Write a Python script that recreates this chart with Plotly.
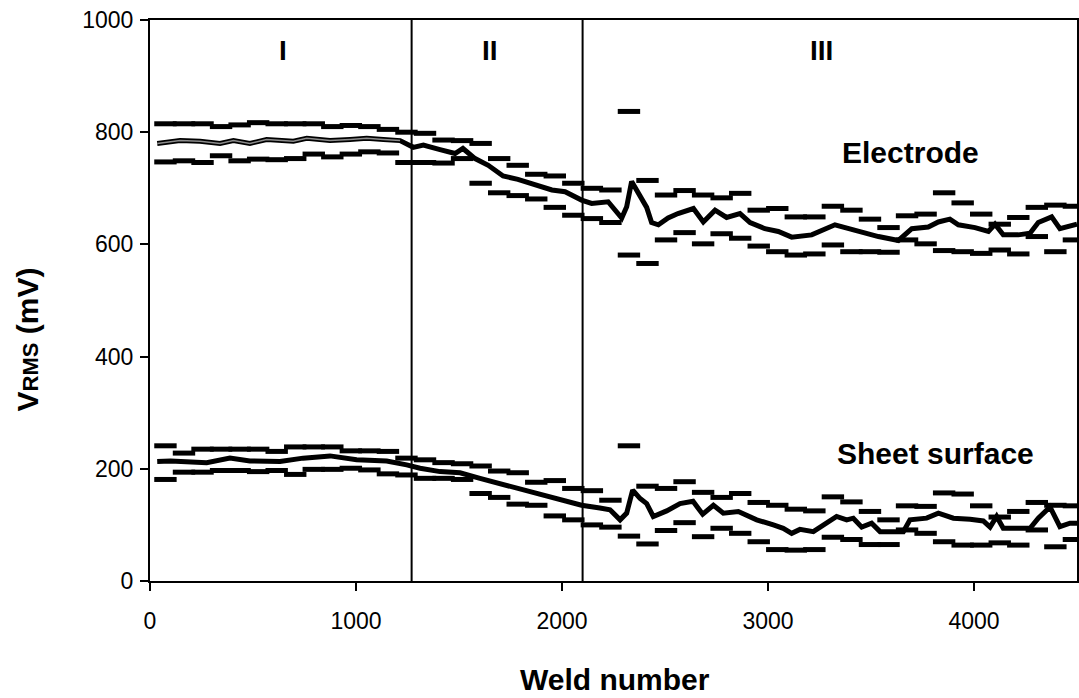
import plotly.graph_objects as go

# Bin centres (weld number) for the scatter bands
weld_bins = [75, 165, 255, 345, 435, 525, 615, 705, 795, 885,
             975, 1065, 1155, 1245, 1335, 1425, 1515, 1605, 1695, 1785,
             1875, 1965, 2055, 2145, 2235, 2325, 2415, 2505, 2595, 2685,
             2775, 2865, 2955, 3045, 3135, 3225, 3315, 3405, 3495, 3585,
             3675, 3765, 3855, 3945, 4035, 4125, 4215, 4305, 4395, 4485]

# Electrode: upper / lower band values per bin (mV)
electrode_upper = [815, 815, 815, 810, 813, 817, 815, 815, 815, 810,
                   812, 810, 805, 800, 798, 786, 785, 780, 753, 741,
                   725, 722, 709, 700, 697, 837, 714, 688, 696, 688,
                   683, 691, 661, 664, 649, 649, 668, 661, 645, 630,
                   651, 654, 692, 674, 654, 636, 648, 666, 670, 668]
electrode_lower = [747, 749, 746, 758, 749, 752, 751, 753, 761, 756,
                   761, 765, 763, 746, 746, 745, 753, 709, 692, 687,
                   681, 666, 652, 646, 639, 581, 566, 608, 621, 601,
                   619, 611, 597, 587, 581, 583, 599, 587, 587, 586,
                   608, 601, 589, 587, 584, 590, 583, 614, 587, 608]

# Sheet surface: upper / lower band values per bin (mV)
sheet_upper = [241, 228, 235, 235, 235, 235, 231, 239, 239, 239,
               232, 232, 231, 219, 216, 211, 209, 205, 196, 193,
               176, 179, 165, 161, 144, 241, 169, 165, 177, 158,
               149, 156, 140, 135, 128, 125, 150, 141, 124, 109,
               134, 133, 157, 155, 134, 114, 124, 140, 135, 134]
sheet_lower = [181, 194, 194, 197, 197, 195, 197, 190, 199, 199,
               201, 198, 191, 189, 183, 183, 181, 156, 149, 137,
               135, 116, 109, 100, 96, 80, 66, 90, 104, 79,
               94, 85, 70, 56, 55, 56, 78, 74, 65, 65,
               91, 85, 70, 64, 64, 68, 64, 91, 61, 74]

# Running mean of V_RMS, electrode
electrode_x = [35, 146, 243, 340, 405, 485, 566, 696, 761, 874,
               971, 1052, 1133, 1214, 1278, 1327, 1408, 1481, 1519, 1578,
               1642, 1714, 1786, 1869, 1951, 2015, 2095, 2144, 2224, 2290,
               2314, 2338, 2379, 2411, 2435, 2468, 2515, 2563, 2638, 2686,
               2743, 2799, 2864, 2913, 2985, 3050, 3115, 3212, 3325, 3398,
               3471, 3536, 3633, 3698, 3778, 3827, 3883, 3924, 4005, 4070,
               4102, 4142, 4215, 4272, 4312, 4377, 4417, 4458, 4500]
electrode_mean = [780, 785, 784, 780, 785, 780, 787, 784, 789, 785,
                  787, 789, 787, 785, 773, 777, 769, 762, 771, 753,
                  741, 722, 716, 706, 697, 694, 679, 673, 676, 647,
                  667, 712, 685, 666, 639, 635, 647, 655, 664, 640,
                  661, 648, 655, 639, 628, 623, 613, 617, 635, 627,
                  620, 614, 607, 628, 631, 640, 645, 635, 630, 623,
                  636, 617, 617, 620, 639, 649, 628, 633, 636]

# Running mean of V_RMS, sheet surface
sheet_x = [35, 100, 275, 388, 485, 631, 743, 874, 1003, 1149,
           1246, 1311, 1408, 1505, 1602, 1699, 1796, 1893, 1990, 2095,
           2184, 2233, 2282, 2314, 2343, 2379, 2411, 2443, 2508, 2573,
           2636, 2683, 2735, 2783, 2856, 2945, 3026, 3074, 3115, 3155,
           3220, 3269, 3333, 3382, 3414, 3455, 3503, 3544, 3608, 3657,
           3689, 3770, 3827, 3900, 3981, 4045, 4078, 4110, 4142, 4207,
           4272, 4312, 4369, 4417, 4466, 4500]
sheet_mean = [213, 214, 211, 219, 214, 213, 219, 223, 216, 214,
              207, 201, 195, 193, 183, 174, 165, 156, 147, 135,
              130, 127, 109, 121, 162, 147, 138, 115, 125, 138,
              142, 119, 135, 121, 124, 109, 100, 94, 85, 92,
              88, 100, 115, 109, 112, 96, 103, 88, 87, 88,
              109, 112, 121, 112, 110, 107, 96, 115, 94, 94,
              94, 112, 132, 97, 103, 103]

# Boundaries between wear stages I / II / III
stage_bounds = [1270, 2100]
stage_names = ["I", "II", "III"]
stage_label_x = [646, 1650, 3262]

FONT = "Liberation Sans, Arial, Helvetica, sans-serif"

fig = go.Figure()

band_marker = dict(symbol="line-ew", size=16, color="black",
                   line=dict(color="black", width=5))
for band in (electrode_upper, electrode_lower, sheet_upper, sheet_lower):
    fig.add_trace(go.Scatter(x=weld_bins, y=band, mode="markers",
                             marker=band_marker, hoverinfo="skip",
                             showlegend=False))

for xs, ys in ((electrode_x, electrode_mean), (sheet_x, sheet_mean)):
    fig.add_trace(go.Scatter(x=xs, y=ys, mode="lines",
                             line=dict(color="black", width=5),
                             showlegend=False))

# lighter core on the stage-I part of the electrode curve
stage1 = [i for i, v in enumerate(electrode_x) if v <= stage_bounds[0]]
fig.add_trace(go.Scatter(x=[electrode_x[i] for i in stage1],
                         y=[electrode_mean[i] for i in stage1],
                         mode="lines", line=dict(color="#8c8c8c", width=1.5),
                         showlegend=False))

for xb in stage_bounds:
    fig.add_shape(type="line", xref="x", yref="y", x0=xb, x1=xb, y0=0, y1=1000,
                  line=dict(color="black", width=2))

for name, xl in zip(stage_names, stage_label_x):
    fig.add_annotation(x=xl, y=946, text="<b>%s</b>" % name, showarrow=False,
                       font=dict(family=FONT, size=28, color="black"))

fig.add_annotation(x=3690, y=764, text="<b>Electrode</b>", showarrow=False,
                   font=dict(family=FONT, size=30, color="black"))
fig.add_annotation(x=3812, y=228, text="<b>Sheet surface</b>", showarrow=False,
                   font=dict(family=FONT, size=30, color="black"))

# axis titles
fig.add_annotation(xref="paper", yref="paper", x=0.502, y=-0.176,
                   xanchor="center", yanchor="middle",
                   text="<b>Weld number</b>", showarrow=False,
                   font=dict(family=FONT, size=30, color="black"))
fig.add_annotation(xref="paper", yref="paper", x=-0.132, y=0.43,
                   xanchor="center", yanchor="middle",
                   text="<b>V<span style='font-size:22px'>RMS</span> (mV)</b>",
                   textangle=-90, showarrow=False,
                   font=dict(family=FONT, size=30, color="black"))

axis_common = dict(showline=True, linecolor="black", linewidth=2, mirror=True,
                   ticks="outside", ticklen=8, tickwidth=2, tickcolor="black",
                   showgrid=False, zeroline=False,
                   tickfont=dict(family=FONT, size=23, color="black"))

fig.update_xaxes(range=[0, 4500], tickvals=[0, 1000, 2000, 3000, 4000],
                 ticklabelstandoff=10, **axis_common)
fig.update_yaxes(range=[0, 1000], tickvals=[0, 200, 400, 600, 800, 1000],
                 ticklabelstandoff=2, **axis_common)

fig.update_layout(width=1079, height=698,
                  margin=dict(l=150, r=2, t=20, b=117, autoexpand=False),
                  plot_bgcolor="white", paper_bgcolor="white",
                  showlegend=False)

fig.write_html("out.html")
